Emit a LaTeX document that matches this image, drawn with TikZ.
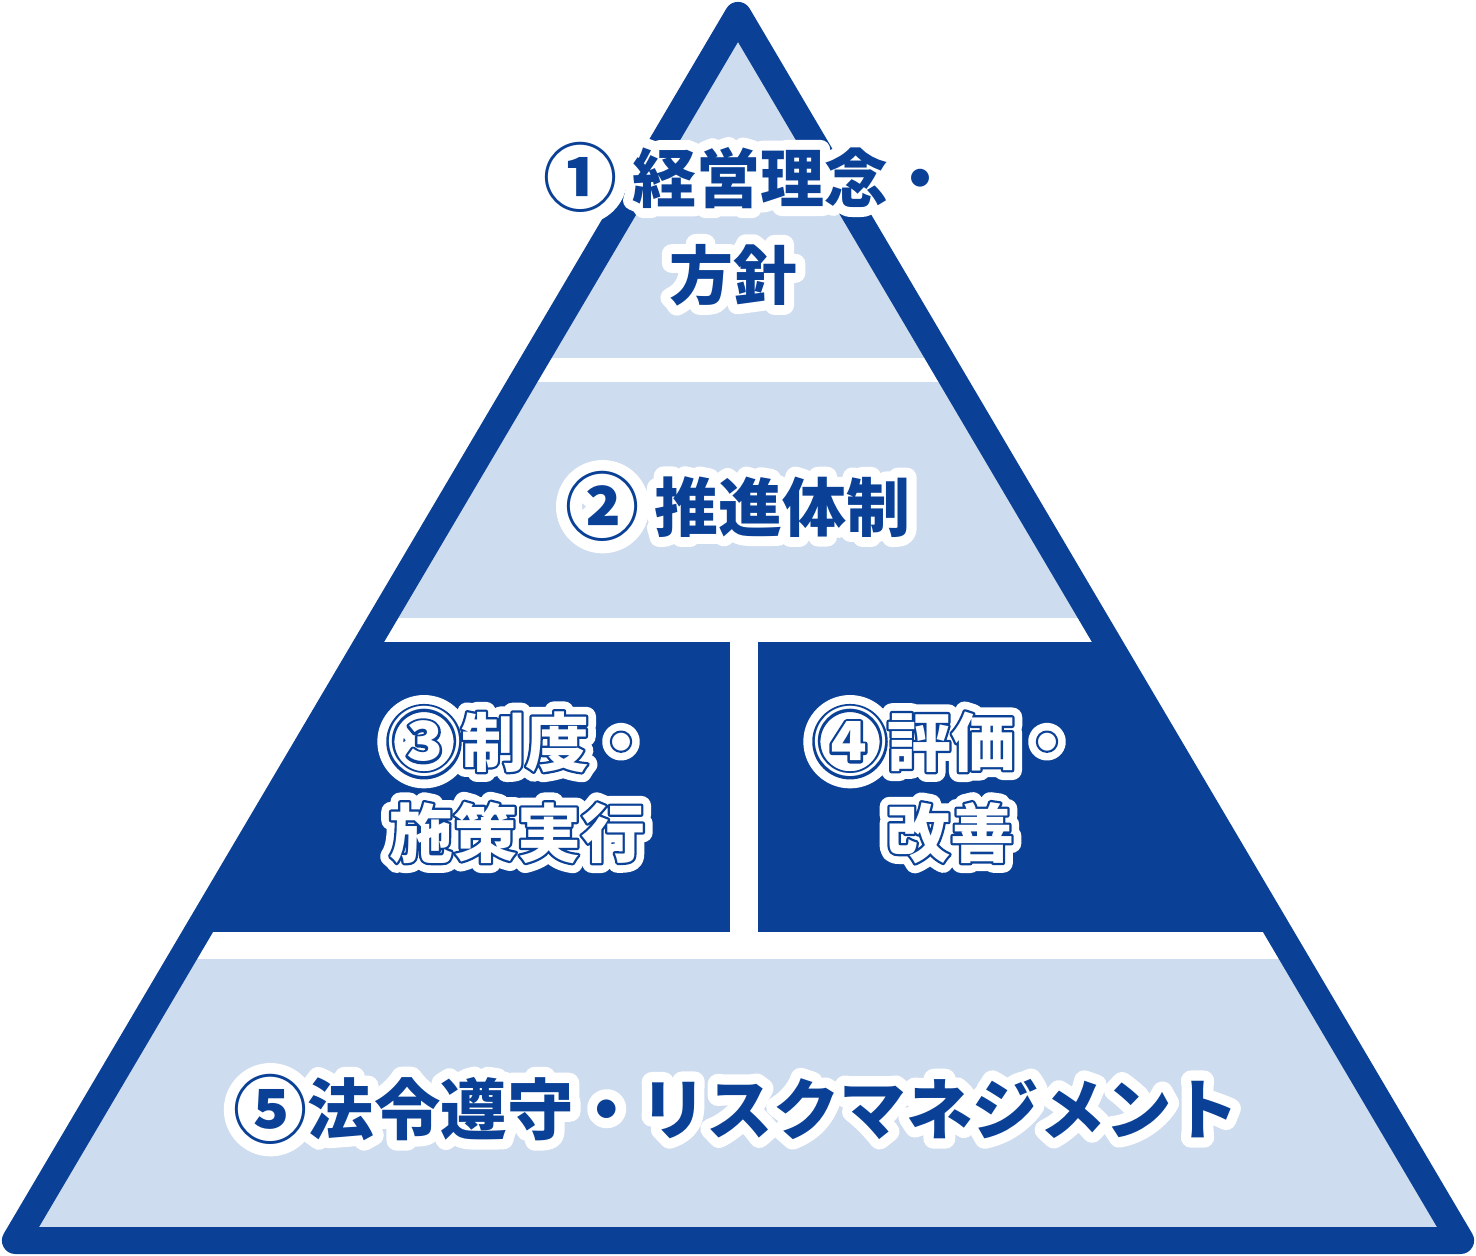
\documentclass[tikz,border=0pt]{standalone}
\usepackage{fontspec}
\newfontfamily\jp{Noto Sans CJK JP}
\newfontfamily\jphalo{Noto Sans CJK JP}[FakeBold=31]
\newfontfamily\jpring{Noto Sans CJK JP}[FakeBold=7]
\definecolor{navy}{HTML}{0A4196}
\definecolor{pale}{HTML}{CEDCEF}
% circled number, a little larger than the text
\newcommand\cnum[1]{{\fontsize{74}{74}\selectfont\raisebox{-3.8pt}{#1}}}
% navy text with white halo
\newcommand\halotxt[1]{%
  \pgfsetroundjoin\pgfsetroundcap
  \rlap{\jphalo\bfseries\color{white}#1}%
  {\color{navy}#1}}
% white text with thin navy ring and white halo
\newcommand\ringtxt[1]{%
  \pgfsetroundjoin\pgfsetroundcap
  \rlap{\jphalo\bfseries\color{white}#1}%
  \rlap{\jpring\bfseries\color{navy}#1}%
  {\color{white}#1}}
\tikzset{
  lbl/.style={anchor=base, inner sep=0pt, line join=round,
    font=\jp\bfseries\fontsize{64}{64}\selectfont},
  lblbig/.style={lbl, font=\jp\bfseries\fontsize{66.5}{66.5}\selectfont},
}
\begin{document}
\begin{tikzpicture}[x=1pt,y=-1pt]
\useasboundingbox (0,0) rectangle (1476,1256);
\coordinate (A) at (738,15.4);
\coordinate (B) at (1460.6,1240.5);
\coordinate (C) at (15.4,1240.5);
\fill[pale] (A) -- (B) -- (C) -- cycle;
\fill[white] (0,358) rectangle (1476,382);
\fill[white] (0,618) rectangle (1476,642);
\fill[white] (0,932) rectangle (1476,959);
\fill[white] (730,642) rectangle (758,932);
\begin{scope}
  \clip (A) -- (B) -- (C) -- cycle;
  \fill[navy] (0,642) rectangle (730,932);
  \fill[navy] (758,642) rectangle (1476,932);
\end{scope}
\draw[navy, line width=27, line join=round] (A) -- (B) -- (C) -- cycle;
% labels
\node[lbl] (t1a) at (748,202) {\halotxt{\cnum{①} 経営理念・}};
\node[lbl] (t1b) at (733,299) {\halotxt{方針}};
\node[lbl] (t2) at (738,531) {\halotxt{\cnum{②} 推進体制}};
\node[lbl] (t3a) at (520,766) {\ringtxt{\cnum{③}制度・}};
\node[lbl] (t3b) at (517,857) {\ringtxt{施策実行}};
\node[lbl] (t4a) at (946,766) {\ringtxt{\cnum{④}評価・}};
\node[lbl] (t4b) at (950,857) {\ringtxt{改善}};
\node[lblbig] (t5) at (736,1134) {\halotxt{\cnum{⑤}法令遵守・リスクマネジメント}};
\end{tikzpicture}
\end{document}
